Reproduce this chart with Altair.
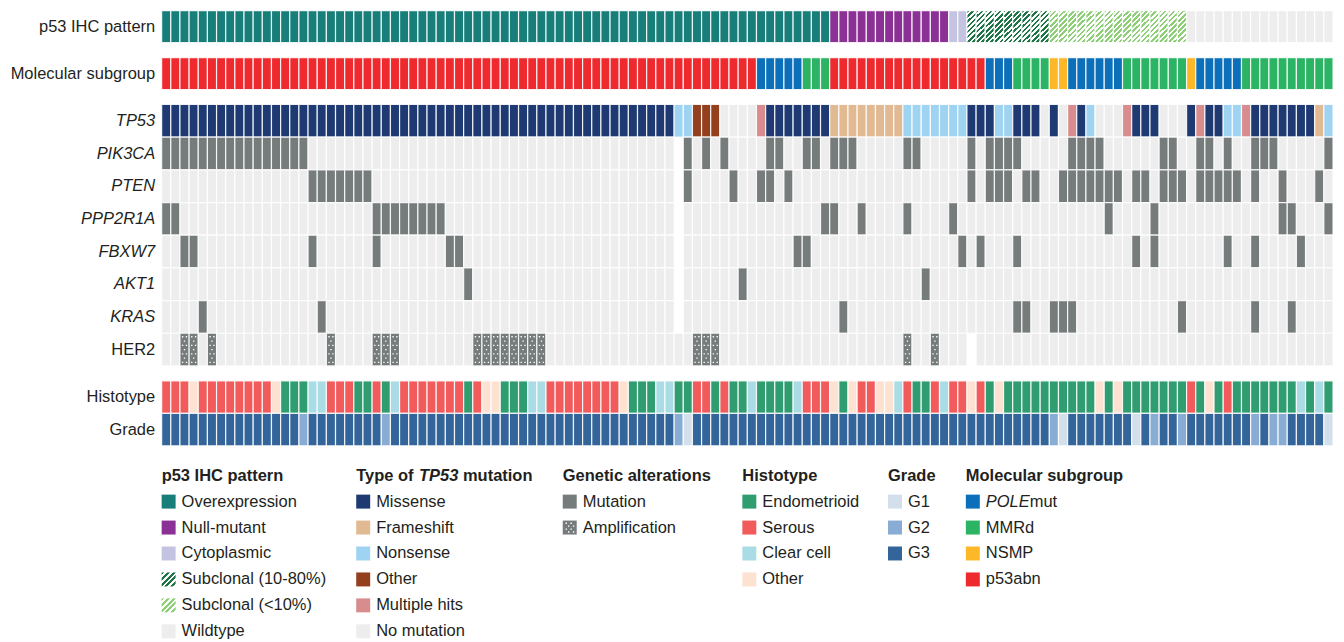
import altair as alt
import pandas as pd

# ---------------- data (one character per patient column) ----------------
n_cols = 128

p53_ihc = ("OOOOOOOOOO OOOOOOOOOO OOOOOOOOOO OOOOOOOOOO OOOOOOOOOO OOOOOOOOOO OOOOOOOOOO "
           "OOONNNNNNN NNNNNNCCHH HHHHHHHLLL LLLLLLLLLL LLWWWWWWWW WWWWWWWW")
subgroup = ("PPPPPPPPPP PPPPPPPPPP PPPPPPPPPP PPPPPPPPPP PPPPPPPPPP PPPPPPPPPP PPPPPEEEEE "
            "MMMPPPPPPP PPPPPPPPPP EEEMMMMNNE EEEEEMMMMM MMNEEEEEMM MMMMMMMM")
tp53 = ("MMMMMMMMMM MMMMMMMMMM MMMMMMMMMM MMMMMMMMMM MMMMMMMMMM MMMMMMSSOO O----HMMMM "
        "MMMFFFFFFF FSSSSSSSMM MSSMMM-M-H MS---HMMM- --MHMMSSHM MMMMMMFS")
pik3ca = ("xxxxxxxxxx xxxxxx.... .......... .......... .......... ......_x.x .x....xx.. "
          "xx.xxx.... .xx.....x. xxxx.....x xxx......x x..xx.x..x xx.....x")
pten = (".......... ......xxxx xxx....... .......... .......... ......_x.. ..x..xx.x. "
        ".......... ........x. xxx.xx..xx xxxxx.xx.x xx.xxxxx.x ..x...x.")
ppp2r1a = ("xx........ .......... ...xxxxxxx x......... .......... ......_... .......... "
           "..xx..x... .x....x... .......... ...x....x. .......... ..xx...x")
fbxw7 = ("..xx...... ......x... ...x...... .xx....... .......... ......_... .........x "
         "x......... .......x.x ...x...... ......x.x. ......x..x ....x...")
akt1 = (".......... .......... .......... ...x...... .......... ......_... ...x...... "
        ".......... ...x...... .......... .......... .......... ........")
kras = ("....x..... .......x.. .......... .......... .......... ......_... .......... "
        "....x..... .......... ...xx..xxx .......... .x.......x ...x....")
her2 = ("..aa.a.... ........a. ...aaa.... ....aaaaaa aa........ ........aa a......... "
        ".......... .a..a..._. .......... .......... .......... ........")
histotype = ("SSSOSSSSSS SSOEEECCSS SEESECSSSS SSSESOOEEE CCSSSSSSSS OEEECCEESS ESEECEEEEC "
             "SSSOEOSSOO CSEESCSSOS EOEEEEEEEE EEOEOEEEEE EESEOESEEE EEEECECE")
grade = ("3333333333 3333323333 3333233333 3333333333 3333333333 3333332133 3333333333 "
         "3333333333 3333333333 3333333213 3333331323 3233333332 32233331")

gene_names = ["TP53", "PIK3CA", "PTEN", "PPP2R1A", "FBXW7", "AKT1", "KRAS", "HER2"]
gene_codes = [tp53, pik3ca, pten, ppp2r1a, fbxw7, akt1, kras, her2]

ihc_codes = {"O": "Overexpression", "N": "Null-mutant", "C": "Cytoplasmic",
             "H": "Subclonal (10-80%)", "L": "Subclonal (<10%)", "W": "Wildtype"}
sub_codes = {"E": "POLEmut", "M": "MMRd", "N": "NSMP", "P": "p53abn"}
tp53_codes = {"M": "Missense", "F": "Frameshift", "S": "Nonsense", "O": "Other",
              "H": "Multiple hits", "-": "No mutation"}
alt_codes = {"x": "Mutation", "a": "Amplification", ".": "No mutation"}
hist_codes = {"E": "Endometrioid", "S": "Serous", "C": "Clear cell", "O": "Other"}
grade_codes = {"1": "G1", "2": "G2", "3": "G3"}

ihc_labels = ["Overexpression", "Null-mutant", "Cytoplasmic", "Subclonal (10-80%)",
              "Subclonal (<10%)", "Wildtype"]
tp53_labels = ["Missense", "Frameshift", "Nonsense", "Other", "Multiple hits", "No mutation"]
alt_labels = ["Mutation", "Amplification"]
hist_labels = ["Endometrioid", "Serous", "Clear cell", "Other"]
grade_labels = ["G1", "G2", "G3"]
sub_labels = ["POLEmut", "MMRd", "NSMP", "p53abn"]

# ---------------- palette ----------------
ihc_colors = ["#177e7a", "#8b3195", "#c4c4e2", "#1d7444", "#8dcf76", "#ededed"]
tp53_colors = ["#1f3a72", "#e1b993", "#9ed3f1", "#94401e", "#d88c8d", "#ededed"]
alt_colors = ["#767b7b", "#767b7b"]
hist_colors = ["#2f9d6f", "#f25b5c", "#a9dce5", "#fde2d2"]
grade_colors = ["#d3dfeb", "#88acd3", "#34659a"]
sub_colors = ["#0b70b9", "#2bb463", "#fcb827", "#ee2a2e"]

FONT = "Liberation Sans"
TXT = "#231f20"
FS = 16.5
W = 1174


def cells(codes):
    s = codes.replace(" ", "")
    assert len(s) == n_cols, len(s)
    return s


def hatch(color, n, x2, y2, frac=0.5):
    stops = []
    for i in range(n):
        a, b, c = i / n, (i + frac) / n, (i + 1) / n
        stops += [alt.GradientStop(color=color, offset=a), alt.GradientStop(color=color, offset=b),
                  alt.GradientStop(color="white", offset=b), alt.GradientStop(color="white", offset=c)]
    return alt.LinearGradient(gradient="linear", stops=stops, x1=0, y1=0, x2=x2, y2=y2)


def dot_shape(ys, xs_even, xs_odd, d):
    parts = []
    for r, y in enumerate(ys):
        for x in (xs_even if r % 2 == 0 else xs_odd):
            parts.append(f"M{x - d / 2:.3f},{y - d / 2:.3f}h{d:.3f}v{d:.3f}h{-d:.3f}Z")
    return "".join(parts)


cell_dots = dot_shape([-0.8 + i * 0.2667 for i in range(7)], [-0.12, 0.12], [0.0], 0.085)
swatch_dots = dot_shape([-0.62, -0.2, 0.22, 0.64], [-0.5, 0.2], [-0.15, 0.55], 0.2)

cell_style = dict(stroke="white", strokeWidth=1.2, strokeOpacity=0.85)
x_enc = alt.X("col:O", axis=None,
              scale=alt.Scale(domain=list(range(n_cols)), paddingInner=0, paddingOuter=0))


def row_axis(**kw):
    return alt.Axis(title=None, domain=False, ticks=False, labelFontSize=FS, labelPadding=7,
                    labelColor=TXT, labelFont=FONT, labelLimit=300, **kw)


# ---------------- p53 IHC row ----------------
df_ihc = pd.DataFrame({"col": range(n_cols), "row": "p53 IHC pattern",
                       "ihc": [ihc_codes[c] for c in cells(p53_ihc)]})
ihc_base = alt.Chart(df_ihc).encode(x=x_enc, y=alt.Y("row:N", axis=row_axis(),
                                                     scale=alt.Scale(paddingInner=0, paddingOuter=0)))
ihc_solid = ihc_base.transform_filter(
    "datum.ihc !== 'Subclonal (10-80%)' && datum.ihc !== 'Subclonal (<10%)'"
).mark_rect(**cell_style).encode(
    fill=alt.Fill("ihc:N", scale=alt.Scale(domain=ihc_labels, range=ihc_colors), legend=None))
ihc_h1 = ihc_base.transform_filter("datum.ihc === 'Subclonal (10-80%)'").mark_rect(
    fill=hatch(ihc_colors[3], 8, 0.333, 1.19), **cell_style)
ihc_h2 = ihc_base.transform_filter("datum.ihc === 'Subclonal (<10%)'").mark_rect(
    fill=hatch(ihc_colors[4], 8, 0.333, 1.19), **cell_style)
top = alt.layer(ihc_solid, ihc_h1, ihc_h2).properties(width=W, height=32)

# ---------------- molecular subgroup row ----------------
df_sub = pd.DataFrame({"col": range(n_cols), "row": "Molecular subgroup",
                       "sub": [sub_codes[c] for c in cells(subgroup)]})
sub = alt.Chart(df_sub).mark_rect(**cell_style).encode(
    x=x_enc, y=alt.Y("row:N", axis=row_axis(), scale=alt.Scale(paddingInner=0, paddingOuter=0)),
    fill=alt.Fill("sub:N", scale=alt.Scale(domain=sub_labels, range=sub_colors), legend=None)
).properties(width=W, height=32)

# ---------------- gene rows ----------------
recs = []
for g, codes in zip(gene_names, gene_codes):
    for i, c in enumerate(cells(codes)):
        if c == "_":
            continue
        cat = tp53_codes[c] if g == "TP53" else alt_codes[c]
        recs.append({"col": i, "gene": g, "cat": cat})
df_gene = pd.DataFrame(recs)
gene_domain = tp53_labels + alt_labels
gene_range = tp53_colors + alt_colors
gene_base = alt.Chart(df_gene).encode(
    x=x_enc,
    y=alt.Y("gene:N", sort=gene_names, scale=alt.Scale(paddingInner=0, paddingOuter=0),
            axis=row_axis(labelFontStyle={"condition": {"test": "datum.value === 'HER2'",
                                                        "value": "normal"},
                                          "value": "italic"})))
gene_rect = gene_base.mark_rect(**cell_style).encode(
    fill=alt.Fill("cat:N", scale=alt.Scale(domain=gene_domain, range=gene_range), legend=None))
gene_dots = gene_base.transform_filter("datum.cat === 'Amplification'").mark_point(
    shape=cell_dots, size=1024, filled=True, fill="white", opacity=1, strokeWidth=0)
genes = alt.layer(gene_rect, gene_dots).properties(width=W, height=262)

# ---------------- histotype / grade ----------------
recs = []
for i, c in enumerate(cells(histotype)):
    recs.append({"col": i, "row": "Histotype", "hg": hist_codes[c]})
for i, c in enumerate(cells(grade)):
    recs.append({"col": i, "row": "Grade", "hg": grade_codes[c]})
df_hg = pd.DataFrame(recs)
hg = alt.Chart(df_hg).mark_rect(**cell_style).encode(
    x=x_enc,
    y=alt.Y("row:N", sort=["Histotype", "Grade"], axis=row_axis(),
            scale=alt.Scale(paddingInner=0, paddingOuter=0)),
    fill=alt.Fill("hg:N", scale=alt.Scale(domain=hist_labels + grade_labels,
                                          range=hist_colors + grade_colors), legend=None)
).properties(width=W, height=65)

# ---------------- legend ----------------
group_x = [0, 195, 402, 582, 728, 806]
groups = [
    (ihc_labels, ihc_colors, ["solid", "solid", "solid", "hdark", "hlight", "solid"]),
    (tp53_labels, tp53_colors, ["solid"] * 6),
    (alt_labels, alt_colors, ["solid", "amp"]),
    (hist_labels, hist_colors, ["solid"] * 4),
    (grade_labels, grade_colors, ["solid"] * 3),
    (sub_labels, sub_colors, ["solid"] * 4),
]
title_parts = [
    [("p53 IHC pattern", "bold", 0)],
    [("Type of", "bold", 0), ("TP53", "bolditalic", 63), ("mutation", "bold", 107)],
    [("Genetic alterations", "bold", 0)],
    [("Histotype", "bold", 0)],
    [("Grade", "bold", 0)],
    [("Molecular subgroup", "bold", 0)],
]
sw, tx = [], []
for gi, (labels, colors, kinds) in enumerate(groups):
    for t, style, off in title_parts[gi]:
        tx.append({"gx": group_x[gi] + off, "item": -1, "text": t, "style": style})
    for ii, (lab, colr, kind) in enumerate(zip(labels, colors, kinds)):
        sw.append({"gx": group_x[gi] + 7, "item": ii, "color": colr, "kind": kind})
        if lab == "POLEmut":
            tx.append({"gx": group_x[gi] + 20, "item": ii, "text": "POLE", "style": "italic"})
            tx.append({"gx": group_x[gi] + 64, "item": ii, "text": "mut", "style": "normal"})
        else:
            tx.append({"gx": group_x[gi] + 20, "item": ii, "text": lab, "style": "normal"})
df_sw = pd.DataFrame(sw)
df_tx = pd.DataFrame(tx)
ly = alt.Y("item:Q", axis=None,
           scale=alt.Scale(domain=[-1.577, 5.577], reverse=True, nice=False, zero=False))
lx = alt.X("gx:Q", scale=None, axis=None)
sw_base = alt.Chart(df_sw).encode(x=lx, y=ly)
sw_solid = sw_base.transform_filter("datum.kind === 'solid' || datum.kind === 'amp'").mark_square(
    size=196, opacity=1, strokeWidth=0).encode(fill=alt.Fill("color:N", scale=None))
sw_h1 = sw_base.transform_filter("datum.kind === 'hdark'").mark_square(
    size=196, opacity=1, strokeWidth=0, fill=hatch(ihc_colors[3], 5, 1, 1))
sw_h2 = sw_base.transform_filter("datum.kind === 'hlight'").mark_square(
    size=196, opacity=1, strokeWidth=0, fill=hatch(ihc_colors[4], 5, 1, 1))
sw_dots = sw_base.transform_filter("datum.kind === 'amp'").mark_point(
    shape=swatch_dots, size=196, filled=True, fill="white", opacity=1, strokeWidth=0)
tx_base = alt.Chart(df_tx).encode(x=lx, y=ly, text="text:N")
t_norm = tx_base.transform_filter("datum.style === 'normal'").mark_text(
    align="left", baseline="middle", fontSize=FS, font=FONT, color=TXT)
t_ital = tx_base.transform_filter("datum.style === 'italic'").mark_text(
    align="left", baseline="middle", fontSize=FS, font=FONT, color=TXT, fontStyle="italic")
t_bold = tx_base.transform_filter("datum.style === 'bold'").mark_text(
    align="left", baseline="middle", fontSize=FS, font=FONT, color=TXT, fontWeight="bold")
t_bi = tx_base.transform_filter("datum.style === 'bolditalic'").mark_text(
    align="left", baseline="middle", fontSize=FS, font=FONT, color=TXT, fontWeight="bold",
    fontStyle="italic")
legend = alt.layer(sw_solid, sw_h1, sw_h2, sw_dots, t_norm, t_ital, t_bold, t_bi).properties(
    width=W, height=186)

chart = alt.vconcat(top, sub, genes, hg, legend, spacing=15, bounds="flush").resolve_scale(
    fill="independent", y="independent", x="independent"
).properties(
    padding={"left": 2, "top": 1, "right": 2, "bottom": 2}
).configure_view(stroke=None)

chart.save("out.html", embed_options={"renderer": "svg", "actions": False})
